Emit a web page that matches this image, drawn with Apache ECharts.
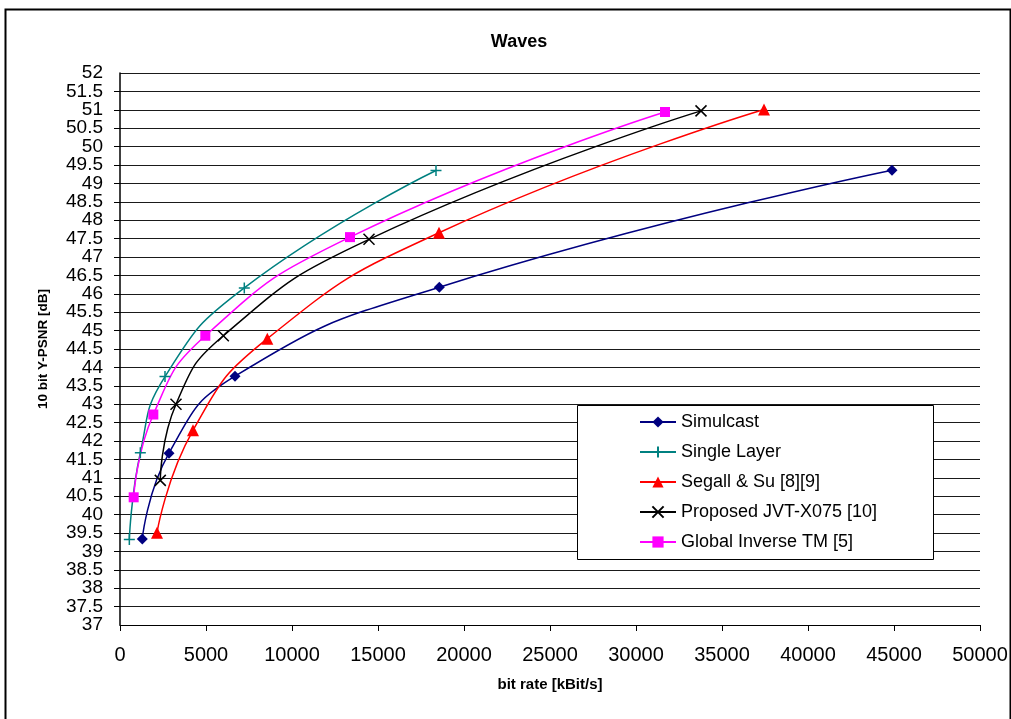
<!DOCTYPE html>
<html>
<head>
<meta charset="utf-8">
<script src="https://cdn.jsdelivr.net/npm/echarts@6/dist/echarts.min.js"></script>
<style>
html,body{margin:0;padding:0;background:#fff;}
#chart{width:1011px;height:719px;}
</style>
</head>
<body>
<div id="chart"></div>
<script>
const seriesNames = ['Simulcast', 'Single Layer', 'Segall & Su [8][9]', 'Proposed JVT-X075 [10]', 'Global Inverse TM [5]'];
const simulcast   = [[1297, 39.34], [2849, 41.67], [6686, 43.76], [18564, 46.18], [44884, 49.36]];
const singleLayer = [[543, 39.32], [1182, 41.68], [2616, 43.75], [7227, 46.16], [18372, 49.35]];
const segallSu    = [[2151, 39.51], [4244, 42.29], [8566, 44.78], [18547, 47.66], [37442, 51.01]];
const proposed    = [[2343, 40.93], [3256, 43.00], [6008, 44.86], [14477, 47.48], [33779, 50.97]];
const globalTM    = [[795, 40.47], [1938, 42.72], [4961, 44.86], [13372, 47.54], [31686, 50.94]];
const xTicks = { min: 0, max: 50000, interval: 5000 };
const yTicks = { min: 37, max: 52, interval: 0.5 };

const FONT = 'Liberation Sans, Arial, sans-serif';
const plusPath = 'path://M0,5L10,5M5,0L5,10';
const crossPath = 'path://M0,0L10,10M10,0L0,10';

function mk(name, data, color, symbol, size, extra) {
  return Object.assign({
    name: name, type: 'line', data: data,
    smooth: 0.5,
    symbol: symbol, symbolSize: size,
    lineStyle: { color: color, width: 1.5 },
    itemStyle: { color: color },
    z: 3
  }, extra || {});
}

const yLabelStyle = { fontSize: 19, color: '#000', margin: 17, fontFamily: FONT };

const chart = echarts.init(document.getElementById('chart'), null, { renderer: 'canvas' });
chart.setOption({
  animation: false,
  backgroundColor: '#fff',
  textStyle: { fontFamily: FONT },
  title: {
    text: 'Waves', left: 514, top: 28, textAlign: 'center',
    textStyle: { fontSize: 18, fontWeight: 'bold', color: '#000', fontFamily: FONT }
  },
  graphic: [
    { type: 'rect', left: 3, top: 7, shape: { x: 0, y: 0, width: 1005, height: 720 },
      style: { fill: 'none', stroke: '#000', lineWidth: 2 }, z: 0, silent: true },
    { type: 'rect', shape: { x: 577.5, y: 405.5, width: 356, height: 154 },
      style: { fill: '#fff', stroke: '#000', lineWidth: 1 }, z: 10, silent: true }
  ],
  grid: { left: 120, right: 31, top: 73, bottom: 94, containLabel: false },
  legend: {
    orient: 'vertical', left: 639, top: 412, padding: 0,
    itemWidth: 36, itemHeight: 14, itemGap: 10, z: 20,
    textStyle: { fontSize: 18, color: '#000', lineHeight: 20, fontFamily: FONT },
    data: seriesNames
  },
  xAxis: {
    type: 'value', min: xTicks.min, max: xTicks.max, interval: xTicks.interval,
    name: 'bit rate [kBit/s]', nameLocation: 'middle', nameGap: 52,
    nameTextStyle: { fontSize: 15, fontWeight: 'bold', color: '#000', fontFamily: FONT },
    axisLine: { show: true, lineStyle: { color: '#000', width: 1 } },
    axisTick: { show: true, inside: false, length: 6, lineStyle: { color: '#000' } },
    axisLabel: { fontSize: 20, color: '#000', margin: 20, formatter: v => String(v), fontFamily: FONT,
                 showMinLabel: true, showMaxLabel: true },
    splitLine: { show: false }
  },
  yAxis: [
    {
      type: 'value', min: yTicks.min, max: yTicks.max, interval: yTicks.interval,
      name: '10 bit Y-PSNR [dB]', nameLocation: 'middle', nameGap: 70, nameRotate: 90,
      nameTextStyle: { fontSize: 13.5, fontWeight: 'bold', color: '#000', fontFamily: FONT },
      axisLine: { show: true, lineStyle: { color: '#000', width: 1.5 } },
      axisTick: { show: true, inside: false, length: 6, lineStyle: { color: '#000' } },
      axisLabel: Object.assign({ showMinLabel: false, showMaxLabel: false }, yLabelStyle),
      splitLine: { show: true, lineStyle: { color: '#1a1a1a', width: 1 } }
    },
    {
      type: 'value', position: 'left', min: yTicks.min, max: yTicks.max, interval: yTicks.interval,
      axisLine: { show: false }, axisTick: { show: false }, splitLine: { show: false },
      axisLabel: Object.assign({
        showMinLabel: true, showMaxLabel: true,
        formatter: v => (v === yTicks.min || v === yTicks.max) ? String(v) : ''
      }, yLabelStyle)
    }
  ],
  series: [
    mk(seriesNames[0], simulcast, '#000080', 'diamond', 11),
    mk(seriesNames[1], singleLayer, '#008080', plusPath, 11,
       { itemStyle: { color: '#008080', borderColor: '#008080', borderWidth: 1.5 } }),
    mk(seriesNames[2], segallSu, '#FF0000', 'triangle', 12),
    mk(seriesNames[3], proposed, '#000000', crossPath, 11,
       { itemStyle: { color: '#000', borderColor: '#000', borderWidth: 1.5 } }),
    mk(seriesNames[4], globalTM, '#FF00FF', 'rect', 10)
  ]
});
</script>
</body>
</html>
